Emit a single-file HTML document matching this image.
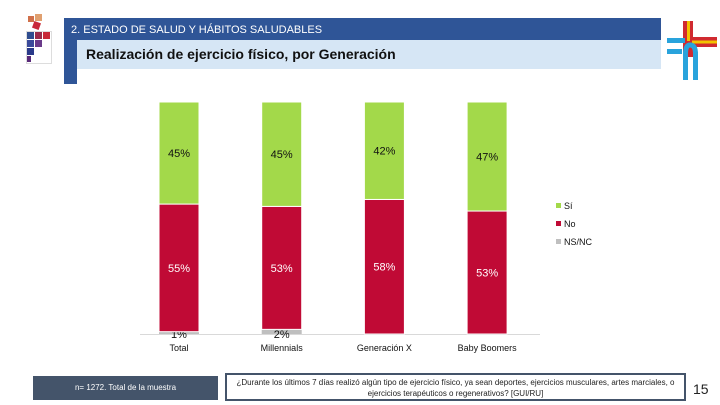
<!DOCTYPE html>
<html><head><meta charset="utf-8"><style>
body{margin:0;width:720px;height:405px;background:#fff;overflow:hidden;font-family:"Liberation Sans",sans-serif;position:relative}
.abs{position:absolute}
</style></head><body>
<div class="abs" style="left:24px;top:14px;width:30px;height:50px">
 <div class="abs" style="left:4px;top:2px;width:6px;height:6px;background:#d0704a"></div>
 <div class="abs" style="left:11px;top:0;width:7px;height:7px;background:#e0a070"></div>
 <div class="abs" style="left:9px;top:8px;width:7px;height:7px;background:#c8283a;transform:rotate(20deg)"></div>
 <div class="abs" style="left:2px;top:17px;width:24px;height:31px;border:1px solid #ddd"></div>
 <div class="abs" style="left:3px;top:18px;width:7px;height:7px;background:#2f4d8f"></div>
 <div class="abs" style="left:11px;top:18px;width:7px;height:7px;background:#9b2b4a"></div>
 <div class="abs" style="left:19px;top:18px;width:7px;height:7px;background:#c82838"></div>
 <div class="abs" style="left:3px;top:26px;width:7px;height:7px;background:#3a4a9a"></div>
 <div class="abs" style="left:11px;top:26px;width:7px;height:7px;background:#6a3a8a"></div>
 <div class="abs" style="left:3px;top:34px;width:7px;height:7px;background:#2a3a8a"></div>
 <div class="abs" style="left:3px;top:42px;width:4px;height:6px;background:#5a2a7a"></div>
</div>
<div class="abs" style="left:64px;top:18px;width:597px;height:22px;background:#2f5597;color:#fff;font-size:11px;line-height:24px;padding-left:7px;box-sizing:border-box">2. ESTADO DE SALUD Y HÁBITOS SALUDABLES</div>
<div class="abs" style="left:64px;top:40px;width:13px;height:44px;background:#2f5597"></div>
<div class="abs" style="left:77px;top:40px;width:584px;height:29px;background:#d6e6f5;color:#111;font-size:14px;font-weight:bold;line-height:29px;padding-left:9px;box-sizing:border-box">Realización de ejercicio físico, por Generación</div>
<svg class="abs" style="left:0;top:0" width="720" height="100">
 <rect x="683" y="21" width="10" height="36" fill="#d02a30"/><rect x="687" y="21" width="3" height="20" fill="#f2c200"/>
 <rect x="692" y="37" width="25" height="10" fill="#d02a30"/><rect x="692" y="40.5" width="25" height="3" fill="#f2c200"/>
 <rect x="667" y="38" width="18" height="5" fill="#29a3dc"/><rect x="667" y="49" width="15" height="5" fill="#29a3dc"/>
 <rect x="683" y="52" width="5" height="28" fill="#29a3dc"/><rect x="693" y="52" width="5" height="28" fill="#29a3dc"/>
 <path d="M685.5 54 Q685.5 45 690 45 Q695.5 45 695.5 54" stroke="#29a3dc" stroke-width="5" fill="none"/>
</svg>
<svg class="abs" style="left:0;top:0" width="720" height="405" id="chart"></svg>
<div class="abs" style="left:33px;top:376px;width:185px;height:24px;background:#44546a;color:#fff;font-size:8px;line-height:24px;text-align:center">n= 1272. Total de la muestra</div>
<div class="abs" style="left:225px;top:373px;width:461px;height:28px;border:2px solid #44546a;box-sizing:border-box;color:#222;font-size:8px;line-height:11px;text-align:center;padding-top:2px">¿Durante los últimos 7 días realizó algún tipo de ejercicio físico, ya sean deportes, ejercicios musculares, artes marciales, o ejercicios terapéuticos o regenerativos? [GUI/RU]</div>
<div class="abs" style="left:693px;top:381px;font-size:14px;color:#222">15</div>
<script>
const categories=["Total","Millennials","Generación X","Baby Boomers"];
const si=[45,45,42,47];
const no=[55,53,58,53];
const nsnc=[1,2,0,0];
const seriesNames=["Sí","No","NS/NC"];
const colors=["#a3d94a","#c00a35","#bfbfbf"];
const svg=document.getElementById('chart');
const NS='http://www.w3.org/2000/svg';
const base=334, top0=102, plotH=base-top0;
const y=v=>v/100*plotH;
const xc=i=>179+i*102.7;
const bw=40;
function el(t,a,txt){const e=document.createElementNS(NS,t);for(const k in a)e.setAttribute(k,a[k]);if(txt!==undefined)e.textContent=txt;svg.appendChild(e);return e;}
const axis=el('line',{x1:140,x2:540,y1:base+0.5,y2:base+0.5,stroke:'#d9d9d9'});


categories.forEach((c,i)=>{
  let acc=base;
  const vals=[nsnc[i],no[i],si[i]];
  const cols=[colors[2],colors[1],colors[0]];
  const names=['nsnc','no','si'];
  vals.forEach((v,j)=>{
    const h=y(v);
    const hh=(j===2)?Math.max(0,acc-top0):h;
    const r=el('rect',{x:xc(i)-bw/2,y:acc-hh,width:bw,height:hh,fill:cols[j],stroke:'#fff','stroke-width':(j>0?1:0)});
    
    
    if(v>0){
      let ly=acc-hh/2+4, fill=j===2?'#111':'#fff';
      if(j===0){ly=base+4;fill='#111';}
      const t=el('text',{x:xc(i),y:ly,'text-anchor':'middle','font-size':11,fill:fill,'font-family':'Liberation Sans, sans-serif'},v+'%');
      
      
    }
    acc-=hh;
  });
  const l=el('text',{x:xc(i),y:351,'text-anchor':'middle','font-size':9,fill:'#111','font-family':'Liberation Sans, sans-serif'},c);
  
  
});
seriesNames.forEach((s,k)=>{
  const ly=208+k*18;
  const r=el('rect',{x:556,y:ly-5,width:5,height:5,fill:colors[k]});
  
  
  const t=el('text',{x:564,y:ly+1,'font-size':9,fill:'#111','font-family':'Liberation Sans, sans-serif'},s);
  
  
});
</script>
</body></html>
